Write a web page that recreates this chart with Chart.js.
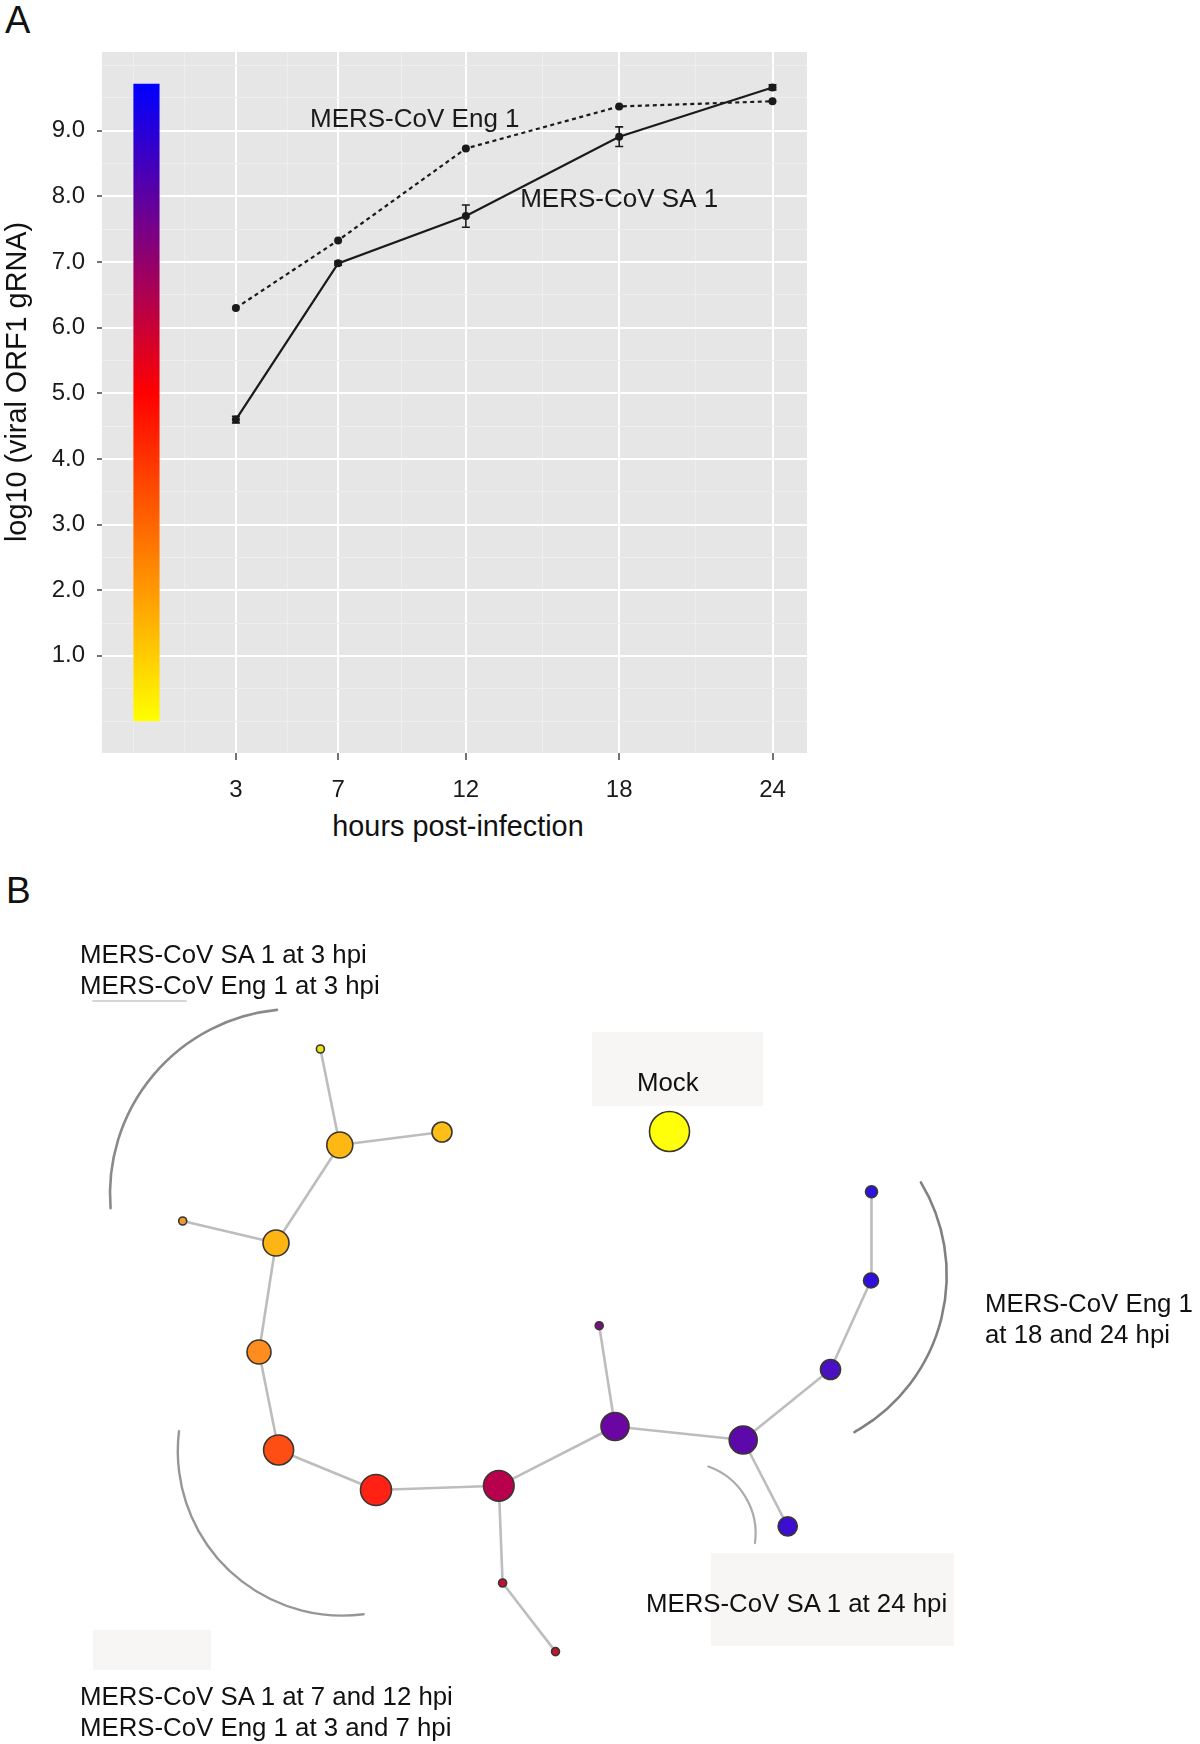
<!DOCTYPE html>
<html>
<head>
<meta charset="utf-8">
<script src="https://cdn.jsdelivr.net/npm/chart.js@4.4.1/dist/chart.umd.min.js"></script>
<style>
  html, body { margin: 0; padding: 0; background: #fff; }
  body { width: 1200px; height: 1744px; position: relative; overflow: hidden;
         font-family: 'Liberation Sans', Arial, sans-serif; color: #111; }
  canvas { position: absolute; }
  .panel { position: absolute; font-size: 38px; line-height: 38px; }
  .lbl { position: absolute; white-space: nowrap; font-size: 25.8px; line-height: 31px; }
  .box { position: absolute; background: #f8f6f4; }
  .axt { position: absolute; width: 400px; text-align: center; font-size: 28.8px; line-height: 30px; white-space: nowrap; }
</style>
</head>
<body>
<div class="panel" style="left:5px; top:1px;">A</div>
<div class="panel" style="left:6px; top:872px; font-size:37px; line-height:37px;">B</div>

<canvas id="growth" width="840" height="810" style="left:0; top:0;"></canvas>
<div class="axt" style="left:-184px; top:367px; transform:rotate(-90deg);">log10 (viral ORF1 gRNA)</div>
<div class="axt" style="left:258px; top:811px;">hours post-infection</div>

<div class="box" style="left:592px; top:1032px; width:171px; height:74px;"></div>
<div class="box" style="left:711px; top:1553px; width:243px; height:93px;"></div>
<div class="box" style="left:93px; top:1630px; width:118px; height:40px;"></div>

<canvas id="network" width="1200" height="884" style="left:0; top:860px;"></canvas>

<div class="lbl" style="left:80px; top:939px;">MERS-CoV SA 1 at 3 hpi<br>MERS-CoV Eng 1 at 3 hpi</div>
<div class="lbl" style="left:637px; top:1067px;">Mock</div>
<div class="lbl" style="left:985px; top:1288px;">MERS-CoV Eng 1<br>at 18 and 24 hpi</div>
<div class="lbl" style="left:646px; top:1588px;">MERS-CoV SA 1 at 24 hpi</div>
<div class="lbl" style="left:80px; top:1681px;">MERS-CoV SA 1 at 7 and 12 hpi<br>MERS-CoV Eng 1 at 3 and 7 hpi</div>

<script>
// ---- panel A: viral RNA over time ----
var hours = [3, 7, 12, 18, 24];
var engValues = [6.30, 7.33, 8.73, 9.37, 9.45];
var saValues = [4.60, 6.98, 7.70, 8.91, 9.66];
var saErrors = [0.05, 0.03, 0.17, 0.15, 0.04];
var xTickLabels = [3, 7, 12, 18, 24];
var yTickLabels = [1, 2, 3, 4, 5, 6, 7, 8, 9];
var xMinorTicks = [-1, 1, 5, 9.5, 15, 21];
var colourBarTop = 9.71;

// ---- panel B: network of samples ----
var nodeX = [320.4, 339.8, 442, 669.5, 182.7, 276, 259, 278.6, 376, 498.8, 502.6, 555.5, 615, 599.2, 743.2, 830.5, 871, 871.5, 787.7];
var nodeY = [1049, 1145, 1132, 1131.5, 1221, 1243, 1352, 1450, 1490, 1485.8, 1583, 1651.6, 1426.5, 1325.7, 1440, 1369.5, 1280.5, 1191.7, 1526.3];
var nodeSize = [4, 13, 10, 20, 4, 13, 12, 15, 15.5, 15.3, 4, 4, 14, 4, 14, 10, 7.5, 6, 9.6];
var nodeColours = ['#e8e31a', '#fdb813', '#fdbf16', '#ffff0a', '#ee9a2a', '#fdb514', '#ff8c1f', '#ff4e14',
                   '#ff2214', '#b8004c', '#bd1438', '#c4162c', '#6c06a3', '#741283', '#5d08a8', '#4a10c4',
                   '#2f10dc', '#2a14e0', '#3c0ecf'];
var edgeFrom = [0, 1, 1, 5, 5, 6, 7, 8, 9, 10, 9, 12, 12, 14, 15, 16, 14];
var edgeTo   = [1, 2, 5, 4, 6, 7, 8, 9, 10, 11, 12, 13, 14, 15, 16, 17, 18];

// group brackets (centre, radius, start/end angle in degrees)
var arcCx = [295, 342.4, 767.1, 684.6];
var arcCy = [1194, 1451, 1275.1, 1533.5];
var arcR = [185, 164.6, 179.6, 71];
var arcStart = [175.6, 82.6, -31.1, -70.5];
var arcEnd = [264.4, 186.9, 60.9, 7.8];

Chart.defaults.font.family = "'Liberation Sans', Arial, sans-serif";
Chart.defaults.color = '#1a1a1a';

function isMajorX(v) { return xTickLabels.indexOf(v) >= 0; }
function isMajorY(v) { return yTickLabels.indexOf(v) >= 0; }

var yAllTicks = [];
for (var t = 0; t <= 20; t++) yAllTicks.push(t / 2);
var xAllTicks = xTickLabels.concat(xMinorTicks).sort(function (a, b) { return a - b; });

var panelBg = {
  id: 'panelBg',
  beforeDraw: function (chart) {
    var a = chart.chartArea, c = chart.ctx;
    c.save();
    c.fillStyle = '#e6e6e6';
    c.fillRect(a.left, a.top, a.right - a.left, a.bottom - a.top);
    c.restore();
  }
};

var extras = {
  id: 'extras',
  afterDatasetsDraw: function (chart) {
    var c = chart.ctx, sx = chart.scales.x, sy = chart.scales.y;
    c.save();
    // error bars on SA 1
    c.strokeStyle = '#1a1a1a';
    c.lineWidth = 1.6;
    for (var i = 0; i < hours.length; i++) {
      var px = sx.getPixelForValue(hours[i]);
      var y1 = sy.getPixelForValue(saValues[i] - saErrors[i]);
      var y2 = sy.getPixelForValue(saValues[i] + saErrors[i]);
      c.beginPath();
      c.moveTo(px, y1); c.lineTo(px, y2);
      c.moveTo(px - 4, y1); c.lineTo(px + 4, y1);
      c.moveTo(px - 4, y2); c.lineTo(px + 4, y2);
      c.stroke();
    }
    // curve names
    c.font = "26px 'Liberation Sans', Arial, sans-serif";
    c.fillStyle = '#1a1a1a';
    c.textAlign = 'center';
    c.textBaseline = 'middle';
    c.fillText('MERS-CoV Eng 1', sx.getPixelForValue(10), sy.getPixelForValue(9.17));
    c.fillText('MERS-CoV SA 1', sx.getPixelForValue(18), sy.getPixelForValue(7.95));
    c.restore();
  }
};

function barGradient(ctx) {
  var chart = ctx.chart, a = chart.chartArea;
  if (!a) return '#ff0000';
  var sy = chart.scales.y;
  var y0 = sy.getPixelForValue(0), y1 = sy.getPixelForValue(colourBarTop);
  var g = chart.ctx.createLinearGradient(0, y0, 0, y1);
  g.addColorStop(0, '#ffff00');
  g.addColorStop(5 / colourBarTop, '#ff0000');
  g.addColorStop(1, '#0000ff');
  return g;
}

new Chart(document.getElementById('growth'), {
  type: 'line',
  data: {
    datasets: [
      {
        type: 'bar',
        label: 'colour scale',
        data: [{ x: -0.5, y: [0, colourBarTop] }],
        backgroundColor: barGradient,
        borderWidth: 0,
        barThickness: 25.5,
        order: 3
      },
      {
        label: 'MERS-CoV Eng 1',
        data: hours.map(function (h, i) { return { x: h, y: engValues[i] }; }),
        borderColor: '#1a1a1a',
        borderWidth: 2.2,
        borderDash: [4, 3.5],
        pointRadius: 4,
        pointBackgroundColor: '#1a1a1a',
        pointBorderWidth: 0,
        tension: 0,
        order: 2
      },
      {
        label: 'MERS-CoV SA 1',
        data: hours.map(function (h, i) { return { x: h, y: saValues[i] }; }),
        borderColor: '#1a1a1a',
        borderWidth: 2.2,
        pointRadius: 4,
        pointBackgroundColor: '#1a1a1a',
        pointBorderWidth: 0,
        tension: 0,
        order: 1
      }
    ]
  },
  options: {
    responsive: false,
    animation: false,
    events: [],
    layout: { autoPadding: false, padding: { top: 52, right: 33, left: 0, bottom: 0 } },
    plugins: { legend: { display: false }, tooltip: { enabled: false } },
    scales: {
      x: {
        type: 'linear',
        min: -2.24,
        max: 25.35,
        offset: false,
        afterBuildTicks: function (s) { s.ticks = xAllTicks.map(function (v) { return { value: v }; }); },
        afterFit: function (s) { s.height = 57; },
        border: { display: false },
        grid: {
          offset: false,
          tickLength: 7,
          color: function (c) { return isMajorX(c.tick.value) ? '#ffffff' : '#eeeeee'; },
          lineWidth: function (c) { return isMajorX(c.tick.value) ? 2 : 1; },
          tickColor: function (c) { return isMajorX(c.tick.value) ? '#444444' : 'rgba(0,0,0,0)'; },
          tickWidth: 1.5
        },
        ticks: {
          autoSkip: false,
          maxRotation: 0,
          padding: 16,
          color: '#1a1a1a',
          font: { size: 24 },
          callback: function (v) { return isMajorX(v) ? String(v) : ''; }
        }
      },
      y: {
        type: 'linear',
        min: -0.48,
        max: 10.2,
        afterBuildTicks: function (s) { s.ticks = yAllTicks.map(function (v) { return { value: v }; }); },
        afterFit: function (s) { s.width = 102; },
        border: { display: false },
        grid: {
          tickLength: 5,
          color: function (c) { return isMajorY(c.tick.value) ? '#ffffff' : '#eeeeee'; },
          lineWidth: function (c) { return isMajorY(c.tick.value) ? 2 : 1; },
          tickColor: function (c) { return isMajorY(c.tick.value) ? '#444444' : 'rgba(0,0,0,0)'; },
          tickWidth: 1.5
        },
        ticks: {
          autoSkip: false,
          padding: 12,
          color: '#1a1a1a',
          font: { size: 24 },
          callback: function (v) { return isMajorY(v) ? v.toFixed(1) : ''; }
        }
      }
    }
  },
  plugins: [panelBg, extras]
});

// ---- network ----
var brackets = {
  id: 'brackets',
  beforeDatasetsDraw: function (chart) {
    var c = chart.ctx, sx = chart.scales.x, sy = chart.scales.y;
    var colours = ['#8a8a8a', '#969696', '#808080', '#ababab'];
    var widths = [2.6, 2.4, 2.6, 2.2];
    c.save();
    c.lineCap = 'round';
    for (var i = 0; i < arcCx.length; i++) {
      var cx = sx.getPixelForValue(arcCx[i]);
      var cy = sy.getPixelForValue(arcCy[i]);
      var r = sx.getPixelForValue(arcCx[i] + arcR[i]) - cx;
      c.beginPath();
      c.arc(cx, cy, r, arcStart[i] * Math.PI / 180, arcEnd[i] * Math.PI / 180);
      c.strokeStyle = colours[i];
      c.lineWidth = widths[i];
      c.stroke();
    }
    // faint underline beneath the first label
    c.beginPath();
    c.moveTo(sx.getPixelForValue(93), sy.getPixelForValue(1001));
    c.lineTo(sx.getPixelForValue(186), sy.getPixelForValue(1001));
    c.strokeStyle = '#d6d6d6';
    c.lineWidth = 2;
    c.stroke();
    c.restore();
  }
};

var edgeSets = edgeFrom.map(function (a, k) {
  var b = edgeTo[k];
  return {
    type: 'line',
    data: [{ x: nodeX[a], y: nodeY[a] }, { x: nodeX[b], y: nodeY[b] }],
    borderColor: '#bdbdbd',
    borderWidth: 2.6,
    pointRadius: 0,
    fill: false,
    order: 2
  };
});

new Chart(document.getElementById('network'), {
  type: 'bubble',
  data: {
    datasets: [{
      label: 'samples',
      data: nodeX.map(function (x, i) { return { x: x, y: nodeY[i], r: nodeSize[i] }; }),
      backgroundColor: nodeColours,
      borderColor: '#3a3530',
      borderWidth: 1.6,
      order: 1
    }].concat(edgeSets)
  },
  options: {
    responsive: false,
    animation: false,
    events: [],
    layout: { autoPadding: false, padding: 0 },
    plugins: { legend: { display: false }, tooltip: { enabled: false } },
    scales: {
      x: { type: 'linear', min: 0, max: 1200, display: false },
      y: { type: 'linear', min: 860, max: 1744, reverse: true, display: false }
    }
  },
  plugins: [brackets]
});
</script>
</body>
</html>
